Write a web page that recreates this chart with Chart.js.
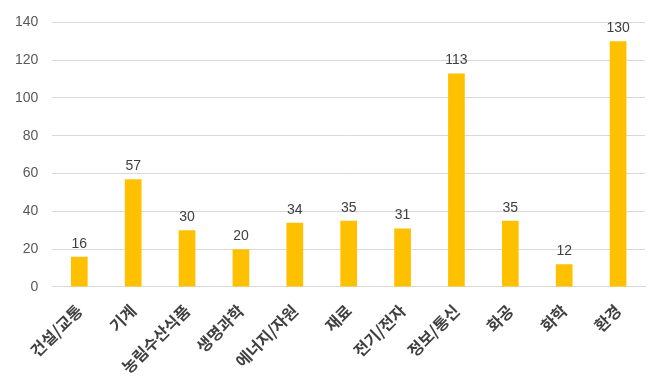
<!DOCTYPE html>
<html>
<head>
<meta charset="utf-8">
<script src="https://cdn.jsdelivr.net/npm/chart.js@4"></script>
<style>
  html, body { margin: 0; padding: 0; background: #fff; }
  #wrap { width: 665px; height: 384px; }
</style>
</head>
<body>
<div id="wrap"><canvas id="grafico"></canvas></div>
<script>
// datos
const categorias = ['건설/교통', '기계', '농림수산식품', '생명과학', '에너지/자원', '재료', '전기/전자', '정보/통신', '화공', '화학', '환경'];
const valores = [16, 57, 30, 20, 34, 35, 31, 113, 35, 12, 130];
const ticksY = [0, 20, 40, 60, 80, 100, 120, 140];

const FUENTE = "'Noto Sans CJK KR', 'Liberation Sans', sans-serif";

// etiquetas encima de las barras
const etiquetasBarras = {
    id: 'etiquetasBarras',
    afterDatasetsDraw(chart) {
        const { ctx } = chart;
        const meta = chart.getDatasetMeta(0);
        ctx.save();
        ctx.fillStyle = '#404040';
        ctx.font = "14px 'Liberation Sans', sans-serif";
        ctx.textAlign = 'center';
        ctx.textBaseline = 'bottom';
        meta.data.forEach((bar, i) => {
            ctx.fillText(valores[i], bar.x, bar.y - 6);
        });
        ctx.restore();
    }
};

new Chart(document.getElementById('grafico').getContext('2d'), {
    type: 'bar',
    data: {
        labels: categorias,
        datasets: [{
            data: valores,
            backgroundColor: '#FFC000',
            categoryPercentage: 1,
            barPercentage: 0.31
        }]
    },
    options: {
        responsive: true,
        maintainAspectRatio: false,
        animation: false,
        layout: { padding: { left: 1, right: 20, top: 12, bottom: 1 } },
        plugins: { legend: { display: false }, tooltip: { enabled: false } },
        scales: {
            x: {
                grid: { display: false },
                border: { color: '#d9d9d9' },
                ticks: {
                    color: '#404040',
                    font: { family: FUENTE, size: 16, weight: 'bold' },
                    maxRotation: 45,
                    minRotation: 45,
                    padding: 6
                }
            },
            y: {
                min: 0,
                max: 140,
                afterBuildTicks(axis) {
                    axis.ticks = ticksY.map(v => ({ value: v }));
                },
                grid: { color: '#d9d9d9', drawTicks: false },
                border: { display: false },
                ticks: {
                    color: '#595959',
                    font: { family: "'Liberation Sans', sans-serif", size: 14 },
                    padding: 14
                }
            }
        }
    },
    plugins: [etiquetasBarras]
});
</script>
</body>
</html>
